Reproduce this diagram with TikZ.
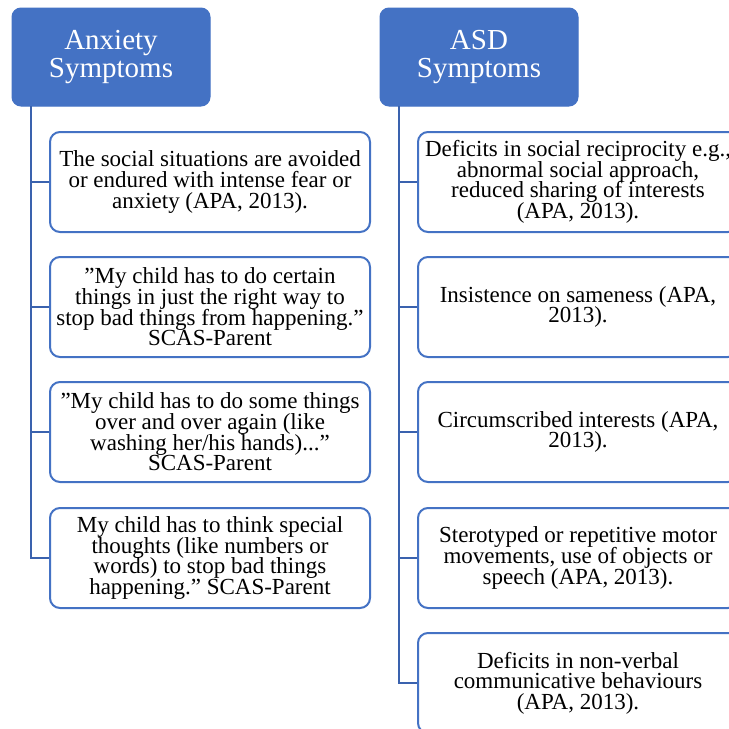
\documentclass[tikz,border=0pt]{standalone}
\usepackage{fontspec}
\setmainfont{Liberation Serif}
\definecolor{hdrblue}{HTML}{4472C4}
\definecolor{lineblue}{HTML}{3A62AE}
% keep the baselines evenly spaced even for tall lines
\newcommand{\tightlines}{\lineskiplimit=-100pt\relax}
\begin{document}
\begin{tikzpicture}[x=1pt,y=-1pt,
  header/.style={draw=hdrblue, fill=hdrblue, rounded corners=9pt, line width=1pt,
    minimum width=198pt, minimum height=98pt, inner sep=0pt, text=white,
    align=center, font={\fontsize{29}{28.5}\selectfont\tightlines}},
  item/.style={draw=hdrblue, fill=white, rounded corners=10pt, line width=2pt,
    minimum width=320pt, minimum height=100pt, inner sep=0pt, text=black,
    align=center, font={\fontsize{23}{20.6}\selectfont\tightlines}},
  conn/.style={draw=lineblue, line width=2pt}]
\useasboundingbox (0,0) rectangle (729,729);
\clip (0,0) rectangle (729,729);

% headings
\node[header] (hA) at (111,57) {Anxiety\\Symptoms};
\node[header] (hB) at (479,57) {ASD\\Symptoms};

% trunk start points under the headings
\coordinate (ta) at (31,106);
\coordinate (tb) at (399,106);

% anxiety column
\node[item] (a1) at (210,182) {The social situations are avoided\\or endured with intense fear or\\anxiety (APA, 2013).};
\node[item] (a2) at (210,307) {"My child has to do certain\\things in just the right way to\\stop bad things from happening."\\SCAS-Parent};
\node[item] (a3) at (210,432) {"My child has to do some things\\over and over again (like\\washing her/his hands)..."\\SCAS-Parent};
\node[item] (a4) at (210,558) {My child has to think special\\thoughts (like numbers or\\words) to stop bad things\\happening." SCAS-Parent};

% ASD column
\node[item] (b1) at (578,182) {Deficits in social reciprocity e.g.,\\abnormal social approach,\\reduced sharing of interests\\(APA, 2013).};
\node[item] (b2) at (578,307) {Insistence on sameness (APA,\\2013).};
\node[item] (b3) at (578,432) {Circumscribed interests (APA,\\2013).};
\node[item] (b4) at (578,558) {Sterotyped or repetitive motor\\movements, use of objects or\\speech (APA, 2013).};
\node[item] (b5) at (578,683) {Deficits in non-verbal\\communicative behaviours\\(APA, 2013).};

% connectors
\foreach \n in {a1,a2,a3,a4} \draw[conn] (ta) |- (\n.west);
\foreach \n in {b1,b2,b3,b4,b5} \draw[conn] (tb) |- (\n.west);
\end{tikzpicture}
\end{document}
